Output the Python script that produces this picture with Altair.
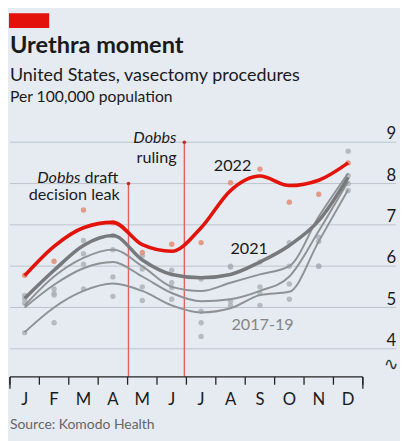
import altair as alt
import pandas as pd

# ---------------- data ----------------
months = ["J", "F", "M", "A", "M", "J", "J", "A", "S", "O", "N", "D"]
y_ticks = [4, 5, 6, 7, 8, 9]

# monthly observations (dots)
dots_2022 = [5.78, 6.12, 7.36, 7.05, 6.33, 6.53, 6.57, 8.02, 8.35, 7.55, 7.74, 8.50]
dots_2021 = [5.29, 5.34, 6.30, 6.74, 5.93, 5.90, 5.69, 6.00, 6.10, 6.57, 6.70, 8.19]
dots_2019 = [5.10, 5.45, 6.62, 6.40, 6.25, 5.48, 4.91, 5.98, 5.34, 6.00, 6.00, 8.78]
dots_2018 = [5.20, 5.30, 6.05, 5.74, 5.50, 5.60, 4.63, 5.15, 5.50, 5.57, 6.60, 7.83]
dots_2017 = [4.39, 4.63, 5.45, 5.27, 5.17, 5.20, 4.30, 5.05, 5.05, 5.20, 6.00, 8.00]

# smoothed trends (lines)
trend_2022 = [5.77, 6.48, 6.93, 7.06, 6.52, 6.36, 6.93, 7.83, 8.18, 7.95, 8.08, 8.50]
trend_2021 = [5.22, 5.90, 6.50, 6.74, 6.15, 5.80, 5.72, 5.80, 6.10, 6.50, 7.10, 8.15]
trend_2019 = [5.05, 5.75, 6.20, 6.40, 6.00, 5.50, 5.40, 5.60, 5.80, 6.00, 7.20, 8.25]
trend_2018 = [5.00, 5.55, 5.95, 6.10, 5.75, 5.35, 5.15, 5.20, 5.40, 5.75, 6.85, 8.05]
trend_2017 = [4.40, 5.00, 5.40, 5.58, 5.40, 5.05, 4.88, 4.98, 5.30, 5.38, 6.60, 7.85]

# events: position in months since Jan 1, and top of the marker line
event_pos = [4.03, 5.93]
event_top = [8.0, 9.0]

# ---------------- styling ----------------
BG = "#e5ebf1"
RED = "#e3120b"
DOT_RED = "#e3907a"
DOT_GREY = "#a9afb5"
FONT = "Lato"
W, H = 394, 250
xs = alt.Scale(domain=[0, 13.13], nice=False, zero=False)
ys = alt.Scale(domain=[3.32, 9.25], nice=False, zero=False)


def long(series_dict):
    rows = []
    for name, vals in series_dict.items():
        for i, v in enumerate(vals):
            rows.append({"pos": i + 0.5, "value": v, "series": name})
    return pd.DataFrame(rows)


dots_grey = long({"2017": dots_2017, "2018": dots_2018, "2019": dots_2019, "2021": dots_2021})
dots_red = long({"2022": dots_2022})
thin = long({"2017": trend_2017, "2018": trend_2018, "2019": trend_2019})
thick21 = long({"2021": trend_2021})
line22 = long({"2022": trend_2022})

X = lambda f: alt.X(f, scale=xs, axis=None)
Y = lambda f: alt.Y(f, scale=ys, axis=None)

grid = alt.Chart(pd.DataFrame({"v": y_ticks})).mark_rule(color="#bcc4cc", strokeWidth=1).encode(
    y=Y("v:Q"), x=alt.value(0), x2=alt.value(W)
)
ylabels = alt.Chart(pd.DataFrame({"v": y_ticks})).mark_text(
    align="right", baseline="alphabetic", dy=-3, font=FONT, fontSize=17, color="#1a1a1a"
).encode(y=Y("v:Q"), x=alt.value(W), text="v:Q")

ev = pd.DataFrame({"pos": event_pos, "top": event_top})
ev_rules = alt.Chart(ev).mark_rule(color="#e4625c", strokeWidth=1.4).encode(
    x=X("pos:Q"), y=Y("top:Q"), y2=alt.value(H)
)
ev_dots = alt.Chart(ev).mark_circle(color="#b5322b", size=14, opacity=1).encode(
    x=X("pos:Q"), y=Y("top:Q")
)

gdots = alt.Chart(dots_grey).mark_circle(color=DOT_GREY, size=30, opacity=0.8).encode(
    x=X("pos:Q"), y=Y("value:Q"), detail="series:N"
)
rdots = alt.Chart(dots_red).mark_circle(color=DOT_RED, size=30, opacity=0.9).encode(
    x=X("pos:Q"), y=Y("value:Q")
)
thin_lines = alt.Chart(thin).mark_line(color="#8f9295", strokeWidth=2, interpolate="monotone").encode(
    x=X("pos:Q"), y=Y("value:Q"), detail="series:N"
)
line21 = alt.Chart(thick21).mark_line(color="#77797c", strokeWidth=3.6, interpolate="monotone").encode(
    x=X("pos:Q"), y=Y("value:Q")
)
red_line = alt.Chart(line22).mark_line(color=RED, strokeWidth=3.6, interpolate="monotone").encode(
    x=X("pos:Q"), y=Y("value:Q")
)

# x axis
bounds = pd.DataFrame({"b": list(range(13))})
ends = pd.DataFrame({"b": [0, 12]})
baseline = alt.Chart(pd.DataFrame({"a": [0], "b": [12]})).mark_rule(color="#222", strokeWidth=1.3).encode(
    x=X("a:Q"), x2="b:Q", y=alt.value(H)
)
ticks = alt.Chart(bounds).mark_rule(color="#222", strokeWidth=1.3).encode(
    x=X("b:Q"), y=alt.value(H), y2=alt.value(H + 8)
)
end_ticks = alt.Chart(ends).mark_rule(color="#222", strokeWidth=1.3).encode(
    x=X("b:Q"), y=alt.value(H), y2=alt.value(H + 12)
)
mlabels = alt.Chart(pd.DataFrame({"pos": [i + 0.5 for i in range(12)], "m": months})).mark_text(
    baseline="alphabetic", font=FONT, fontSize=17, color="#1a1a1a"
).encode(x=X("pos:Q"), y=alt.value(279), text="m:N")


def txt(t, x, y, size=15, weight="normal", style="normal", color="#1a1a1a", align="left", font=FONT):
    return alt.Chart(alt.Data(values=[{"t": t}])).mark_text(
        align=align, baseline="alphabetic", font=font, fontSize=size, fontWeight=weight,
        fontStyle=style, color=color
    ).encode(x=alt.value(x), y=alt.value(y), text="t:N")


red_bar = alt.Chart(alt.Data(values=[{}])).mark_rect(color=RED).encode(
    x=alt.value(-1), x2=alt.value(40), y=alt.value(-121), y2=alt.value(-106)
)

texts = [
    txt("Urethra moment", 0, -80, size=24, weight="bold"),
    txt("United States, vasectomy procedures", 0, -52, size=18.3),
    txt("Per 100,000 population", 0, -30, size=16),
    txt("Source: Komodo Health", 0, 303, size=14.2, color="#666666"),
    txt("Dobbs", 72, 52, size=16.5, style="italic", align="right"),
    txt("draft", 76, 52, size=16.5),
    txt("decision leak", 112, 70, size=16.5, align="right"),
    txt("Dobbs", 170, 11, size=16.5, style="italic", align="right"),
    txt("ruling", 170, 32, size=16.5, align="right"),
    txt("2022", 208, 40, size=16.5),
    txt("2021", 225, 125, size=16.5),
    txt("2017-19", 226, 202, size=16.5, color="#858585"),
    txt("∿", 389, 243, size=18, color="#333333", font="DejaVu Sans", align="center"),
]

chart = alt.layer(
    grid, ev_rules, gdots, rdots, thin_lines, line21, red_line, ev_dots,
    baseline, ticks, end_ticks, mlabels, ylabels, red_bar, *texts
).properties(
    width=W, height=H,
    background=BG,
    padding={"left": 2, "top": 122, "right": 4, "bottom": 61},
    autosize=alt.AutoSizeParams(type="none"),
).configure_view(stroke=None)

chart.save("out.html", embed_options={"renderer": "svg", "actions": False})
